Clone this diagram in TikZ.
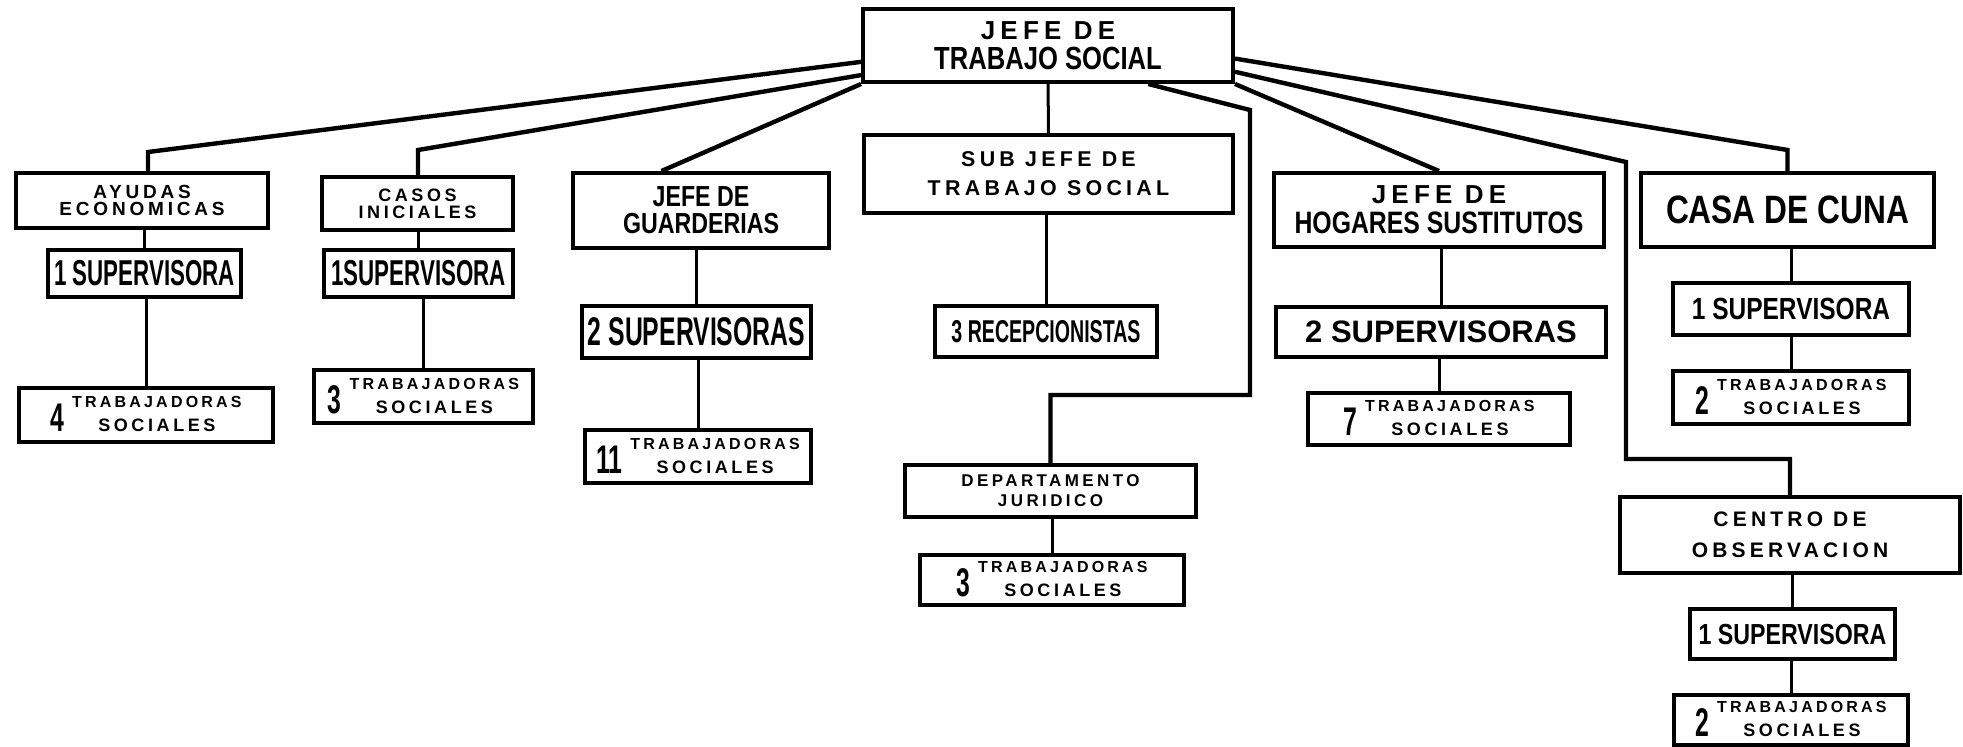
\documentclass[tikz,border=0pt]{standalone}
\usepackage{fontspec}
\setmainfont{Liberation Sans}
\newfontfamily\talltype{Liberation Sans}[FakeStretch=0.62]
\newfontfamily\midtype{Liberation Sans}[FakeStretch=0.8]
\newfontfamily\widetype{Liberation Sans}[LetterSpace=20]
\usetikzlibrary{calc}
\newcommand\sz[2]{\fontsize{#1}{#2}\selectfont}
\newcommand\trab[1]{{\talltype\sz{20}{20}#1}\hspace{4pt}{\widetype\sz{8}{12}\begin{tabular}[b]{@{}c@{}}TRABAJADORAS\\\sz{9}{12}SOCIALES\end{tabular}}}
\tikzset{box/.style={draw,line width=2pt,inner sep=0pt,align=center,font=\bfseries}}
\tikzset{arm/.style={line width=2.2pt}}
\tikzset{tie/.style={line width=1.5pt}}

\begin{document}
\begin{tikzpicture}[x=0.5pt,y=-0.5pt]
\useasboundingbox (0,0) rectangle (1963,746);

\node[box,minimum width=185pt,minimum height=36.5pt,font=\bfseries\sz{14}{15}] (jefe) at (1048,45.5) {{\widetype\sz{13}{15}JEFE DE}\\{\midtype\sz{16}{15}TRABAJO SOCIAL}};

\node[box,minimum width=126pt,minimum height=27.5pt,font=\bfseries\widetype\sz{9.5}{8.5}] (ayudas) at (142,200.5) {AYUDAS\\ECONOMICAS};
\node[box,minimum width=96.5pt,minimum height=23.5pt,font=\bfseries\talltype\sz{18}{18}] (ayudassup) at (144.5,273.5) {1 SUPERVISORA};
\node[box,minimum width=127pt,minimum height=27pt] (ayudastrab) at (146,415) {\trab{4}};

\node[box,minimum width=95.5pt,minimum height=26.5pt,font=\bfseries\widetype\sz{9}{8.5}] (casos) at (417.5,203.5) {CASOS\\INICIALES};
\node[box,minimum width=94.5pt,minimum height=23.5pt,font=\bfseries\talltype\sz{18}{18}] (casossup) at (418.5,273.5) {1SUPERVISORA};
\node[box,minimum width=109.5pt,minimum height=26.5pt] (casostrab) at (423.5,396.5) {\trab{3}};

\node[box,minimum width=128pt,minimum height=37.5pt,font=\bfseries\midtype\sz{14.5}{13.5}] (guard) at (701,210.5) {JEFE DE\\GUARDERIAS};
\node[box,minimum width=114.5pt,minimum height=26pt,font=\bfseries\talltype\sz{20}{20}] (guardsup) at (696.5,332) {2 SUPERVISORAS};
\node[box,minimum width=113pt,minimum height=26.5pt] (guardtrab) at (698,456.5) {\trab{11}};

\node[box,minimum width=184.5pt,minimum height=39pt,font=\bfseries\widetype\sz{10.7}{14.5}] (subjefe) at (1048.5,174) {SUB JEFE DE\\TRABAJO SOCIAL};
\node[box,minimum width=111pt,minimum height=25.5pt,font=\bfseries\talltype\sz{15.8}{16}] (recep) at (1046,331.5) {3 RECEPCIONISTAS};
\node[box,minimum width=145.5pt,minimum height=26pt,font=\bfseries\widetype\sz{8.5}{10}] (depto) at (1050.5,491) {DEPARTAMENTO\\JURIDICO};
\node[box,minimum width=132pt,minimum height=25pt] (deptotrab) at (1052,580) {\trab{3}};

\node[box,minimum width=165pt,minimum height=37pt,font=\bfseries\sz{14}{15}] (hogares) at (1439,210) {{\widetype\sz{13}{15}JEFE DE}\\{\midtype\sz{15.5}{15}HOGARES SUSTITUTOS}};
\node[box,minimum width=165pt,minimum height=25pt,font=\bfseries\sz{15.5}{16}] (hogaressup) at (1441,332) {2 SUPERVISORAS};
\node[box,minimum width=131pt,minimum height=26pt] (hogarestrab) at (1439,419) {\trab{7}};

\node[box,minimum width=146.5pt,minimum height=37pt,font=\bfseries\midtype\sz{19.8}{20}] (casa) at (1787.5,210) {CASA DE CUNA};
\node[box,minimum width=118pt,minimum height=26pt,font=\bfseries\midtype\sz{15.3}{16}] (casasup) at (1791,309) {1 SUPERVISORA};
\node[box,minimum width=118pt,minimum height=26.5pt] (casatrab) at (1791,397.5) {\trab{2}};

\node[box,minimum width=170pt,minimum height=38pt,font=\bfseries\widetype\sz{10.5}{15.5}] (centro) at (1790,535) {CENTRO DE\\OBSERVACION};
\node[box,minimum width=102.5pt,minimum height=25pt,font=\bfseries\midtype\sz{14.5}{15}] (centrosup) at (1792.5,634) {1 SUPERVISORA};
\node[box,minimum width=117pt,minimum height=25pt] (centrotrab) at (1791,720) {\trab{2}};

% bends of the long connectors
\coordinate (b1) at (148,152);
\coordinate (b2) at (418,150);
\coordinate (b3) at (1250,110);
\coordinate (b4) at (1250,395);
\coordinate (b5) at (1050.5,395);
\coordinate (b6) at (1626,162);
\coordinate (b7) at (1626,459);
\coordinate (b8) at (1790,459);
\coordinate (b9) at (1787.5,150);

\draw[arm] (jefe.185) -- (b1) -- (b1 |- ayudas.north);
\draw[arm] (jefe.189) -- (b2) -- (b2 |- casos.north);
\draw[arm] (jefe.south west) -- (guard.135);
\draw[tie] (jefe) -- (subjefe);
\draw[arm] (jefe.339) -- (b3) -- (b4) -- (b5) -- (depto.north);
\draw[arm] (jefe.south east) -- (hogares.north);
\draw[arm] (jefe.352) -- (b6) -- (b7) -- (b8) -- (centro.north);
\draw[arm] (jefe.356) -- (b9) -- (casa.north);

\draw[tie] (ayudassup) -- (ayudassup |- ayudas.south);
\draw[tie] (ayudastrab) -- (ayudastrab |- ayudassup.south);
\draw[tie] (casossup) -- (casossup |- casos.south);
\draw[tie] (casostrab) -- (casostrab |- casossup.south);
\draw[tie] (guardsup) -- (guardsup |- guard.south);
\draw[tie] (guardtrab) -- (guardtrab |- guardsup.south);
\draw[tie] (recep) -- (recep |- subjefe.south);
\draw[tie] (deptotrab) -- (deptotrab |- depto.south);
\draw[tie] (hogaressup) -- (hogaressup |- hogares.south);
\draw[tie] (hogarestrab) -- (hogarestrab |- hogaressup.south);
\draw[tie] (casasup) -- (casasup |- casa.south);
\draw[tie] (casatrab) -- (casatrab |- casasup.south);
\draw[tie] (centrosup) -- (centrosup |- centro.south);
\draw[tie] (centrotrab) -- (centrotrab |- centrosup.south);

\end{tikzpicture}
\end{document}
